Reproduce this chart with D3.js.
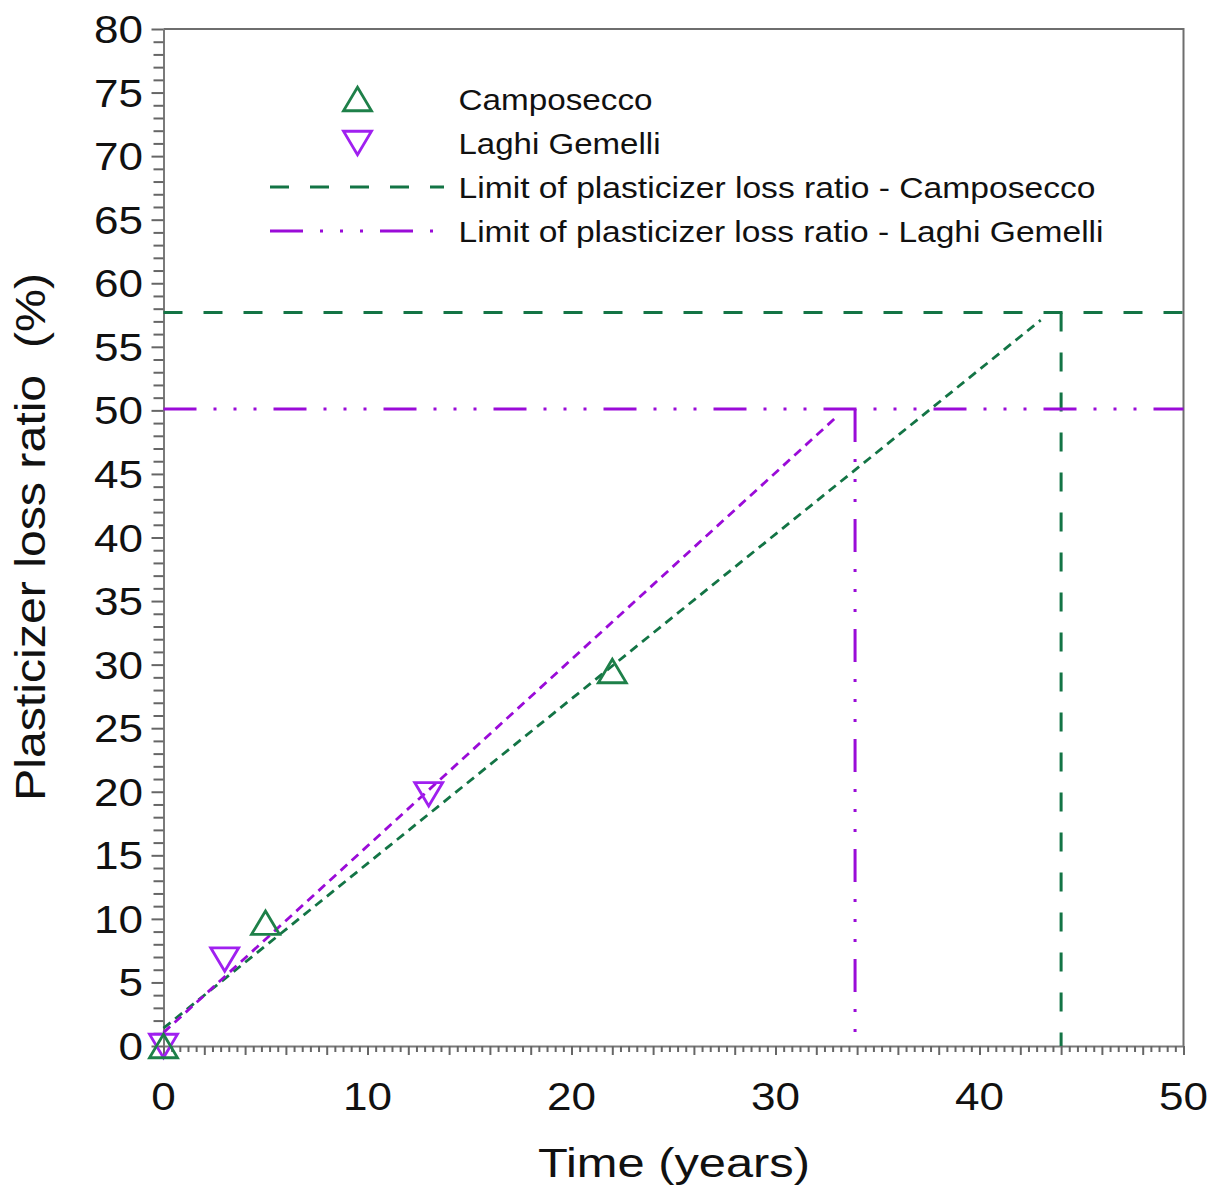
<!DOCTYPE html>
<html>
<head>
<meta charset="utf-8">
<script src="https://cdn.jsdelivr.net/npm/d3@7"></script>
<style>
  body { margin: 0; background: #fff; }
  svg { display: block; font-family: "Liberation Sans", Arial, sans-serif; }
</style>
</head>
<body>
<div id="chart"></div>
<script>
// measured points
const campoYears = [0, 5, 22];
const campoLoss = [0, 9.7, 29.5];
const laghiYears = [0, 3, 13];
const laghiLoss = [0, 6.8, 19.8];

// fitted trend lines (start / end)
const campoFitYears = [0, 43.0];
const campoFitLoss = [1.4, 57.1];
const laghiFitYears = [0, 33.0];
const laghiFitLoss = [1.05, 49.5];

// limits
const campoLimitLoss = 57.7;
const campoLimitYear = 44.0;
const laghiLimitLoss = 50.1;
const laghiLimitYear = 33.9;

const xTickLabels = [0, 10, 20, 30, 40, 50];
const yTickLabels = [0, 5, 10, 15, 20, 25, 30, 35, 40, 45, 50, 55, 60, 65, 70, 75, 80];

const legendLabels = [
  "Camposecco",
  "Laghi Gemelli",
  "Limit of plasticizer loss ratio - Camposecco",
  "Limit of plasticizer loss ratio - Laghi Gemelli"
];

const GREEN = "#137445";
const GREEN_MK = "#1e8049";
const PURPLE = "#9a0bd8";
const PURPLE_MK = "#a020f0";
const AXIS = "#7a7a7a";

const W = 1216, H = 1194;
const svg = d3.select("#chart").append("svg").attr("width", W).attr("height", H);

const x = d3.scaleLinear().domain([0, 50]).range([163.5, 1183.5]);
const y = d3.scaleLinear().domain([0, 80]).range([1046, 29]);

// frame (top + right)
svg.append("path")
  .attr("d", `M${x(0)},${y(80)}H${x(50)}V${y(0)}`)
  .attr("fill", "none").attr("stroke", "#6e6e6e").attr("stroke-width", 2);

// y axis ticks
const yAxis = d3.axisLeft(y).tickValues(d3.range(0, 81, 1)).tickFormat("")
  .tickSize(10).tickSizeOuter(0);
const gy = svg.append("g").attr("transform", `translate(${x(0)},0)`).call(yAxis);
gy.selectAll(".tick line").attr("stroke", "#666").attr("stroke-width", 2)
  .attr("x2", d => d % 5 === 0 ? -12 : -10);
gy.select(".domain").attr("stroke", AXIS).attr("stroke-width", 2);

// x axis ticks
const xAxis = d3.axisBottom(x).tickValues(d3.range(0, 126).map(i => i * 0.4)).tickFormat("")
  .tickSize(6).tickSizeOuter(0);
const gx = svg.append("g").attr("transform", `translate(0,${y(0)})`).call(xAxis);
gx.selectAll(".tick line").attr("stroke", "#666").attr("stroke-width", 2)
  .attr("y2", (d, i) => i % 5 === 0 ? 9 : 6);
gx.select(".domain").attr("stroke", AXIS).attr("stroke-width", 2);

// tick labels
svg.append("g").selectAll("text").data(yTickLabels).join("text")
  .attr("transform", d => `translate(143,${y(d)}) scale(1.13,1)`)
  .attr("dy", "0.36em").attr("text-anchor", "end")
  .style("font-size", "39px").attr("fill", "#111").text(d => d);

svg.append("g").selectAll("text").data(xTickLabels).join("text")
  .attr("transform", d => `translate(${x(d)},1110) scale(1.13,1)`)
  .attr("text-anchor", "middle")
  .style("font-size", "39px").attr("fill", "#111").text(d => d);

// axis titles
svg.append("text")
  .attr("transform", "translate(674,1177)")
  .attr("text-anchor", "middle")
  .attr("textLength", 272).attr("lengthAdjust", "spacingAndGlyphs")
  .style("font-size", "41px").attr("fill", "#111")
  .text("Time (years)");

svg.append("text")
  .attr("transform", "translate(45,537) rotate(-90)")
  .attr("text-anchor", "middle")
  .attr("textLength", 528).attr("lengthAdjust", "spacingAndGlyphs")
  .style("font-size", "42px").style("white-space", "pre").attr("fill", "#111")
  .text("Plasticizer loss ratio  (%)");

const line = d3.line().x(d => x(d[0])).y(d => y(d[1]));

// limit lines
const campoDash = "19,21";
const laghiDash = "33,17,3,17,3,17,3,17";

svg.append("path")
  .attr("d", line([[0, campoLimitLoss], [50, campoLimitLoss]]))
  .attr("stroke", GREEN).attr("stroke-width", 3).attr("fill", "none")
  .attr("stroke-dasharray", campoDash);
svg.append("path")
  .attr("d", line([[campoLimitYear, campoLimitLoss], [campoLimitYear, 0]]))
  .attr("stroke", GREEN).attr("stroke-width", 3).attr("fill", "none")
  .attr("stroke-dasharray", campoDash);

svg.append("path")
  .attr("d", line([[0, laghiLimitLoss], [50, laghiLimitLoss]]))
  .attr("stroke", PURPLE).attr("stroke-width", 3).attr("fill", "none")
  .attr("stroke-dasharray", laghiDash);
svg.append("path")
  .attr("d", line([[laghiLimitYear, laghiLimitLoss], [laghiLimitYear, 0]]))
  .attr("stroke", PURPLE).attr("stroke-width", 3).attr("fill", "none")
  .attr("stroke-dasharray", laghiDash);

// trend lines
svg.append("path")
  .attr("d", line(d3.zip(campoFitYears, campoFitLoss)))
  .attr("stroke", GREEN).attr("stroke-width", 2.8).attr("fill", "none")
  .attr("stroke-dasharray", "9,6");
svg.append("path")
  .attr("d", line(d3.zip(laghiFitYears, laghiFitLoss)))
  .attr("stroke", PURPLE).attr("stroke-width", 2.8).attr("fill", "none")
  .attr("stroke-dasharray", "9,6");

// triangle markers
const tw = 28, th = 23.5;
const triUp = `M0,${-th / 2}L${tw / 2},${th / 2}L${-tw / 2},${th / 2}Z`;
const triDown = `M0,${th / 2}L${tw / 2},${-th / 2}L${-tw / 2},${-th / 2}Z`;

svg.append("g").selectAll("path").data(d3.zip(laghiYears, laghiLoss)).join("path")
  .attr("transform", d => `translate(${x(d[0])},${y(d[1])})`)
  .attr("d", triDown).attr("fill", "none").attr("stroke", PURPLE_MK).attr("stroke-width", 2.8);
svg.append("g").selectAll("path").data(d3.zip(campoYears, campoLoss)).join("path")
  .attr("transform", d => `translate(${x(d[0])},${y(d[1])})`)
  .attr("d", triUp).attr("fill", "none").attr("stroke", GREEN_MK).attr("stroke-width", 2.8);

// legend
const legend = svg.append("g");
const rowY = [99, 143, 187, 231];
const labelLen = [194, 202, 637, 645];

legend.append("path").attr("transform", `translate(357.5,${rowY[0]})`)
  .attr("d", triUp).attr("fill", "none").attr("stroke", GREEN_MK).attr("stroke-width", 2.8);
legend.append("path").attr("transform", `translate(357.5,${rowY[1]})`)
  .attr("d", triDown).attr("fill", "none").attr("stroke", PURPLE_MK).attr("stroke-width", 2.8);
legend.append("line").attr("x1", 270).attr("x2", 444).attr("y1", rowY[2]).attr("y2", rowY[2])
  .attr("stroke", GREEN).attr("stroke-width", 3).attr("stroke-dasharray", campoDash);
legend.append("line").attr("x1", 270).attr("x2", 436).attr("y1", rowY[3]).attr("y2", rowY[3])
  .attr("stroke", PURPLE).attr("stroke-width", 3).attr("stroke-dasharray", laghiDash);

legend.selectAll("text").data(legendLabels).join("text")
  .attr("x", 458.5).attr("y", (d, i) => rowY[i] + 10.5)
  .attr("textLength", (d, i) => labelLen[i]).attr("lengthAdjust", "spacingAndGlyphs")
  .style("font-size", "29px").attr("fill", "#111")
  .text(d => d);
</script>
</body>
</html>
